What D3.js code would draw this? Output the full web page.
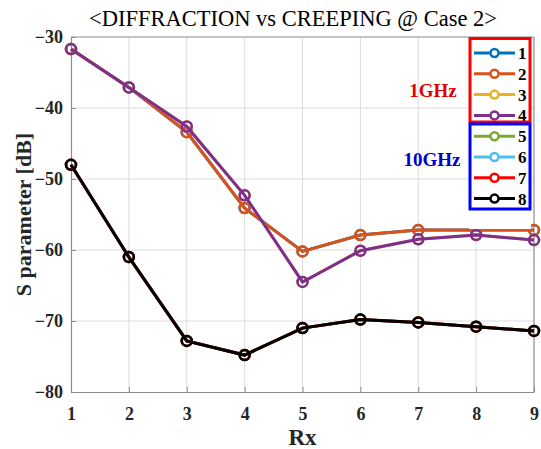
<!DOCTYPE html>
<html>
<head>
<meta charset="utf-8">
<script src="https://cdn.jsdelivr.net/npm/d3@7"></script>
<style>
  body { margin: 0; background: #fff; }
  text { font-family: "Liberation Serif", "Times New Roman", serif; }
</style>
</head>
<body>
<div id="plot"></div>
<script>
// Rx positions
const rx = [1, 2, 3, 4, 5, 6, 7, 8, 9];

// S parameter [dB] per case (1-4: 1GHz, 5-8: 10GHz)
const case1 = [-31.7, -37.1, -43.4, -54.1, -60.2, -57.9, -57.2, -57.2, -57.2];
const case2 = [-31.7, -37.1, -43.4, -54.1, -60.2, -57.9, -57.2, -57.2, -57.2];
const case3 = [-31.7, -37.1, -42.6, -52.3, -64.5, -60.1, -58.5, -57.9, -58.6];
const case4 = [-31.7, -37.1, -42.6, -52.3, -64.5, -60.1, -58.5, -57.9, -58.6];
const case5 = [-48.0, -61.0, -72.8, -74.8, -71.0, -69.8, -70.2, -70.8, -71.4];
const case6 = [-48.0, -61.0, -72.8, -74.8, -71.0, -69.8, -70.2, -70.8, -71.4];
const case7 = [-48.0, -61.0, -72.8, -74.8, -71.0, -69.8, -70.2, -70.8, -71.4];
const case8 = [-48.0, -61.0, -72.8, -74.8, -71.0, -69.8, -70.2, -70.8, -71.4];

const seriesNames = ['1', '2', '3', '4', '5', '6', '7', '8'];
const seriesValues = [case1, case2, case3, case4, case5, case6, case7, case8];
const seriesColors = ['#0072BD', '#D95319', '#EDB120', '#7E2F8E', '#77AC30', '#4DBEEE', '#FF0000', '#000000'];

const yTicks = [-80, -70, -60, -50, -40, -30];

const W = 541, H = 449;
const margin = {top: 37, right: 7, bottom: 57, left: 71};
const width = W - margin.left - margin.right;
const height = H - margin.top - margin.bottom;

const svg = d3.select('#plot').append('svg')
  .attr('width', W)
  .attr('height', H);

const g = svg.append('g')
  .attr('transform', 'translate(' + margin.left + ',' + margin.top + ')');

const x = d3.scaleLinear().domain([1, 9]).range([0, width]);
const y = d3.scaleLinear().domain([-80, -30]).range([height, 0]);

// Grid
g.append('g')
  .selectAll('line')
  .data(rx.slice(1, -1))
  .enter().append('line')
    .attr('x1', d => x(d)).attr('x2', d => x(d))
    .attr('y1', 0).attr('y2', height)
    .attr('stroke', '#dcdcdc').attr('stroke-width', 1);
g.append('g')
  .selectAll('line')
  .data(yTicks.slice(1, -1))
  .enter().append('line')
    .attr('y1', d => y(d)).attr('y2', d => y(d))
    .attr('x1', 0).attr('x2', width)
    .attr('stroke', '#dcdcdc').attr('stroke-width', 1);

// Axes
const xAxis = g.append('g')
  .attr('transform', 'translate(0,' + height + ')')
  .call(d3.axisBottom(x).tickValues(rx).tickFormat(d3.format('d')).tickSizeInner(-5).tickSizeOuter(0).tickPadding(15));
const yAxis = g.append('g')
  .call(d3.axisLeft(y).tickValues(yTicks).tickSizeInner(-5).tickSizeOuter(0).tickPadding(8));

[xAxis, yAxis].forEach(ax => {
  ax.select('.domain').attr('stroke', '#8c8c8c').attr('stroke-width', 1.2);
  ax.selectAll('.tick line').attr('stroke', '#8c8c8c');
  ax.selectAll('.tick text')
    .attr('fill', '#262626')
    .style('font-family', '"Liberation Serif", serif')
    .style('font-size', '18px')
    .style('font-weight', 'bold');
});

// Box top / right
g.append('line').attr('x1', 0).attr('x2', width).attr('y1', 0).attr('y2', 0)
  .attr('stroke', '#8c8c8c').attr('stroke-width', 1.2);
g.append('line').attr('x1', width).attr('x2', width).attr('y1', 0).attr('y2', height)
  .attr('stroke', '#8c8c8c').attr('stroke-width', 1.2);

// Lines and markers
const line = d3.line()
  .x((d, i) => x(rx[i]))
  .y(d => y(d));

seriesValues.forEach((vals, k) => {
  const sg = g.append('g');
  sg.append('path')
    .datum(vals)
    .attr('d', line)
    .attr('fill', 'none')
    .attr('stroke', seriesColors[k])
    .attr('stroke-width', 3);
  sg.selectAll('circle')
    .data(vals)
    .enter().append('circle')
      .attr('cx', (d, i) => x(rx[i]))
      .attr('cy', d => y(d))
      .attr('r', 5)
      .attr('fill', 'none')
      .attr('stroke', seriesColors[k])
      .attr('stroke-width', 2.5);
});

// Title and axis labels
svg.append('text')
  .attr('x', 293).attr('y', 26)
  .attr('text-anchor', 'middle')
  .style('font-size', '22.5px')
  .attr('fill', '#000')
  .text('<DIFFRACTION vs CREEPING @ Case 2>');

svg.append('text')
  .attr('x', margin.left + width / 2).attr('y', 445)
  .attr('text-anchor', 'middle')
  .style('font-size', '23px')
  .style('font-weight', 'bold')
  .attr('fill', '#262626')
  .text('Rx');

svg.append('text')
  .attr('transform', 'translate(31,' + (margin.top + height / 2) + ') rotate(-90)')
  .attr('text-anchor', 'middle')
  .style('font-size', '22px')
  .style('font-weight', 'bold')
  .attr('fill', '#262626')
  .text('S parameter [dB]');

// Legend
const legend = svg.append('g');
legend.append('rect')
  .attr('x', 469).attr('y', 37).attr('width', 62).attr('height', 192)
  .attr('fill', '#fff').attr('stroke', 'none');

seriesNames.forEach((name, k) => {
  const ly = 53 + k * 20.8;
  legend.append('line')
    .attr('x1', 474).attr('x2', 515).attr('y1', ly).attr('y2', ly)
    .attr('stroke', seriesColors[k]).attr('stroke-width', 3);
  legend.append('circle')
    .attr('cx', 494.5).attr('cy', ly).attr('r', 4)
    .attr('fill', '#fff')
    .attr('stroke', seriesColors[k]).attr('stroke-width', 2.5);
  legend.append('text')
    .attr('x', 518).attr('y', ly + 6)
    .style('font-size', '17px')
    .style('font-weight', 'bold')
    .attr('fill', '#000')
    .text(name);
});

legend.append('rect')
  .attr('x', 470).attr('y', 38.5).attr('width', 60).attr('height', 83.5)
  .attr('fill', 'none').attr('stroke', '#FF0000').attr('stroke-width', 3);
legend.append('rect')
  .attr('x', 470).attr('y', 124).attr('width', 60).attr('height', 85)
  .attr('fill', 'none').attr('stroke', '#0000FF').attr('stroke-width', 3);

svg.append('text')
  .attr('x', 433).attr('y', 97)
  .attr('text-anchor', 'middle')
  .style('font-size', '19px')
  .style('font-weight', 'bold')
  .attr('fill', '#E00000')
  .text('1GHz');
svg.append('text')
  .attr('x', 432).attr('y', 166)
  .attr('text-anchor', 'middle')
  .style('font-size', '19px')
  .style('font-weight', 'bold')
  .attr('fill', '#0000CC')
  .text('10GHz');
</script>
</body>
</html>
